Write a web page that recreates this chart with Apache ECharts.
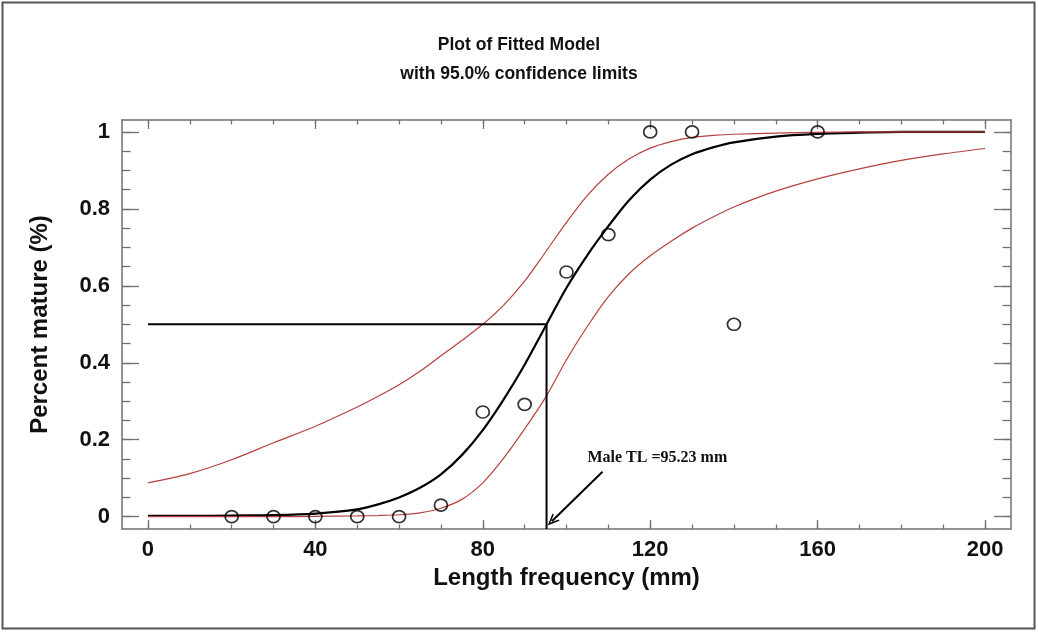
<!DOCTYPE html>
<html>
<head>
<meta charset="utf-8">
<script src="https://cdn.jsdelivr.net/npm/echarts@6/dist/echarts.min.js"></script>
<style>
html,body{margin:0;padding:0;background:#fff;}
#chart{width:1038px;height:632px;}
</style>
</head>
<body>
<div id="chart"></div>
<script>
// ---- data ----
const obsLength = [20, 30, 40, 50, 60, 70, 80, 90, 100, 110, 120, 130, 140, 160];
const obsMature = [0, 0, 0, 0, 0, 0.03, 0.272, 0.292, 0.636, 0.733, 1, 1, 0.5, 1];

const curveLength = [0, 10, 20, 30, 40, 50, 55, 60, 65, 70, 75, 80, 85, 90, 95, 100, 105, 110, 115, 120, 125, 130, 135, 140, 150, 160, 170, 180, 190, 200];
const fitted     = [0.002, 0.002, 0.003, 0.004, 0.008, 0.019, 0.032, 0.05, 0.075, 0.11, 0.16, 0.225, 0.305, 0.395, 0.495, 0.595, 0.68, 0.755, 0.823, 0.876, 0.915, 0.942, 0.96, 0.973, 0.988, 0.995, 0.998, 1, 1, 1];
const upperLimit = [0.088, 0.112, 0.148, 0.192, 0.235, 0.285, 0.313, 0.343, 0.378, 0.418, 0.458, 0.5, 0.55, 0.612, 0.688, 0.765, 0.835, 0.89, 0.93, 0.958, 0.975, 0.986, 0.991, 0.994, 0.997, 0.999, 1, 1, 1, 1];
const lowerLimit = [0, 0, 0, 0, 0.001, 0.002, 0.003, 0.005, 0.01, 0.022, 0.045, 0.088, 0.152, 0.228, 0.31, 0.408, 0.495, 0.572, 0.632, 0.678, 0.716, 0.75, 0.779, 0.805, 0.846, 0.878, 0.904, 0.926, 0.943, 0.957];

const xMajorTicks = [0, 40, 80, 120, 160, 200];
const xMinorTicks = [0, 10, 20, 30, 40, 50, 60, 70, 80, 90, 100, 110, 120, 130, 140, 150, 160, 170, 180, 190, 200];
const yMajorTicks = [0, 0.2, 0.4, 0.6, 0.8, 1];
const yMinorTicks = [0, 0.05, 0.1, 0.15, 0.2, 0.25, 0.3, 0.35, 0.4, 0.45, 0.5, 0.55, 0.6, 0.65, 0.7, 0.75, 0.8, 0.85, 0.9, 0.95, 1];

const L50 = 95.23;
const P50 = 0.5;
const annotationText = 'Male TL =95.23 mm';
const titleText = 'Plot of Fitted Model\nwith 95.0% confidence limits';
const xName = 'Length frequency (mm)';
const yName = 'Percent mature (%)';

// ---- chart ----
const X_MIN = -6.2, X_MAX = 206.2, Y_MIN = -0.032, Y_MAX = 1.031;
const axisGray = '#707070';
const redCol = '#b4423f';

function zip(a, b) { return a.map((v, i) => [v, b[i]]); }

function xAxisDef(pos, ticks, len, main) {
  const primary = main && pos === 'bottom';
  return {
    type: 'value', position: pos, min: X_MIN, max: X_MAX, gridIndex: 0,
    name: primary ? xName : '', nameLocation: 'middle', nameGap: 37, nameMoveOverlap: false,
    nameTextStyle: {fontFamily: 'Liberation Sans, Arial', fontWeight: 'bold', fontSize: 24, color: '#111'},
    axisLine: {show: main, onZero: false, lineStyle: {color: axisGray, width: 1.5}},
    axisTick: {show: true, inside: true, length: len, customValues: ticks, lineStyle: {color: axisGray, width: 1.3}},
    axisLabel: {show: primary, customValues: xMajorTicks, margin: 10,
      fontFamily: 'Liberation Sans, Arial', fontWeight: 'bold', fontSize: 22, color: '#111'},
    splitLine: {show: false}
  };
}
function yAxisDef(pos, ticks, len, main) {
  const primary = main && pos === 'left';
  return {
    type: 'value', position: pos, min: Y_MIN, max: Y_MAX, gridIndex: 0,
    name: primary ? yName : '', nameLocation: 'middle', nameGap: 70, nameMoveOverlap: false,
    nameTextStyle: {fontFamily: 'Liberation Sans, Arial', fontWeight: 'bold', fontSize: 24, color: '#111'},
    axisLine: {show: main, onZero: false, lineStyle: {color: axisGray, width: 1.5}},
    axisTick: {show: true, inside: true, length: len, customValues: ticks, lineStyle: {color: axisGray, width: 1.3}},
    axisLabel: {show: primary, customValues: yMajorTicks, margin: 12,
      fontFamily: 'Liberation Sans, Arial', fontWeight: 'bold', fontSize: 22, color: '#111'},
    splitLine: {show: false}
  };
}

const chart = echarts.init(document.getElementById('chart'), null, {renderer: 'canvas'});
chart.setOption({
  animation: false,
  backgroundColor: '#fff',
  title: {
    text: titleText, left: 'center', top: 26,
    textStyle: {fontFamily: 'Liberation Sans, Arial', fontWeight: 'bold', fontSize: 17.5, lineHeight: 29, color: '#111'}
  },
  graphic: [{
    type: 'rect', shape: {x: 2.5, y: 2.5, width: 1032, height: 626},
    style: {fill: 'none', stroke: '#555', lineWidth: 2}, silent: true, z: 100
  }],
  grid: {left: 122, right: 27, top: 120, bottom: 103, containLabel: false, outerBoundsMode: 'none'},
  xAxis: [
    xAxisDef('bottom', xMajorTicks, 9, true),
    xAxisDef('bottom', xMinorTicks, 4.5, false),
    xAxisDef('top', xMajorTicks, 9, true),
    xAxisDef('top', xMinorTicks, 4.5, false)
  ],
  yAxis: [
    yAxisDef('left', yMajorTicks, 17, true),
    yAxisDef('left', yMinorTicks, 8.5, false),
    yAxisDef('right', yMajorTicks, 17, true),
    yAxisDef('right', yMinorTicks, 8.5, false)
  ],
  series: [
    {
      type: 'line', name: 'fitted', data: zip(curveLength, fitted),
      smooth: 0.3, symbol: 'none',
      lineStyle: {color: '#000', width: 2.2}, z: 3, silent: true
    },
    {
      type: 'line', name: 'upper', data: zip(curveLength, upperLimit),
      smooth: 0.3, symbol: 'none',
      lineStyle: {color: redCol, width: 1.2}, z: 4, silent: true
    },
    {
      type: 'line', name: 'lower', data: zip(curveLength, lowerLimit),
      smooth: 0.3, symbol: 'none',
      lineStyle: {color: redCol, width: 1.2}, z: 4, silent: true
    },
    {
      type: 'line', name: 'L50', data: [[0, P50], [L50, P50], [L50, Y_MIN]],
      symbol: 'none', lineStyle: {color: '#000', width: 2}, z: 5, silent: true,
      markLine: {
        silent: true, animation: false,
        symbol: ['none', 'path://M0,10 L5,0 L10,10 L8.4,10 L5,3.2 L1.6,10 Z'],
        symbolSize: [10, 12],
        label: {show: false},
        lineStyle: {color: '#000', width: 2, type: 'solid'},
        data: [[{coord: [108.6, 0.117]}, {coord: [96.5, -0.012]}]]
      },
      markPoint: {
        silent: true, animation: false,
        data: [{
          coord: [121.7, 0.152], symbol: 'circle', symbolSize: 1,
          itemStyle: {color: 'rgba(0,0,0,0)'},
          label: {show: true, position: 'inside', formatter: annotationText,
            fontFamily: 'Liberation Serif, Times New Roman', fontWeight: 'bold', fontSize: 16, color: '#111'}
        }]
      }
    },
    {
      type: 'scatter', name: 'observed', data: zip(obsLength, obsMature),
      symbol: 'circle', symbolSize: [13, 12],
      itemStyle: {color: 'rgba(0,0,0,0)', borderColor: '#000', borderWidth: 1.7},
      z: 6, silent: true
    }
  ]
});
</script>
</body>
</html>
